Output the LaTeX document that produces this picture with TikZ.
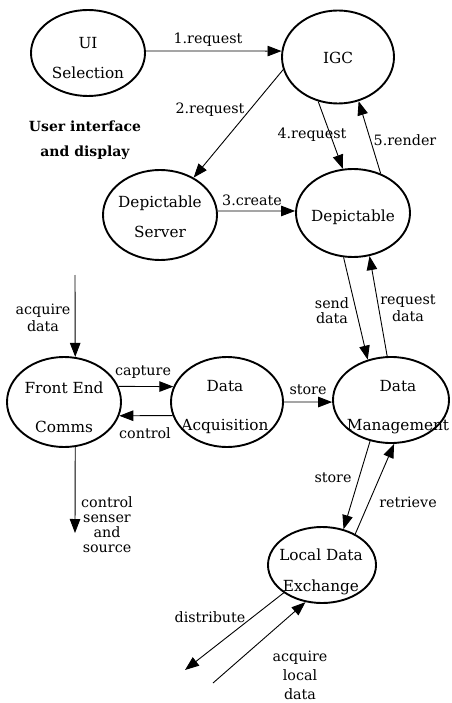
\documentclass[tikz,border=0pt]{standalone}
\usepackage{fontspec}
\setmainfont{DejaVu Serif}
\usetikzlibrary{shapes.geometric,arrows.meta}
\begin{document}
\begin{tikzpicture}[x=1pt,y=-1pt,
  proc/.style={draw,line width=1.9pt,ellipse,inner sep=0pt},
  ntext/.style={inner sep=0pt,align=center,font=\fontsize{15.3}{17}\selectfont},
  lbl/.style={inner sep=0pt,align=center,font=\fontsize{14.3}{15}\selectfont},
  flow/.style={line width=0.9pt,-{Triangle[length=14pt,width=10.5pt]}}]
\useasboundingbox (0,0) rectangle (451,703);
% processes
\node[proc,minimum width=114,minimum height=86] (ui) at (88,53) {};
\node[proc,minimum width=112,minimum height=93] (igc) at (338,57) {};
\node[proc,minimum width=114,minimum height=90] (ds) at (160,215) {};
\node[proc,minimum width=114,minimum height=88] (dep) at (353,213) {};
\node[proc,minimum width=114,minimum height=90] (fec) at (64,402) {};
\node[proc,minimum width=112,minimum height=90] (da) at (227,402) {};
\node[proc,minimum width=116,minimum height=86] (dm) at (391,400) {};
\node[proc,minimum width=108,minimum height=76] (lde) at (322,565) {};
% process texts
\node[ntext] (uit) at (88,58) {UI\\[13pt]Selection};
\node[ntext] (igct) at (338,58) {IGC};
\node[ntext] (dst) at (160,217) {Depictable\\[13pt]Server};
\node[ntext] (dept) at (353,217) {Depictable};
\node[ntext] (fect) at (64,407) {Front End\\[22pt]Comms};
\node[ntext] (dat) at (225,407) {Data\\[22pt]Acquisition};
\node[ntext] (dmt) at (398,407) {Data\\[22pt]Management};
\node[ntext] (ldet) at (321,572) {Local Data\\[14pt]Exchange};
% labels
\node[lbl] (l1) at (208,40) {1.request};
\node[lbl] (l2) at (210,110) {2.request};
\node[lbl,font=\bfseries\fontsize{14}{25}\selectfont] (uid) at (85,140) {User interface\\and display};
\node[lbl] (l4) at (312,135) {4.request};
\node[lbl] (l5) at (405,140) {5.render};
\node[lbl] (l3) at (252,200) {3.create};
\node[lbl,font=\fontsize{14.3}{17}\selectfont] (lacq) at (43,318) {acquire\\data};
\node[lbl] (lsend) at (332,311) {send\\data};
\node[lbl,font=\fontsize{14.3}{17}\selectfont] (lreq) at (408,308) {request\\data};
\node[lbl] (lcap) at (143,372) {capture};
\node[lbl] (lctl) at (145,433) {control};
\node[lbl] (lst1) at (308,390) {store};
\node[lbl] (lcss) at (107,525) {control\\senser\\and\\source};
\node[lbl] (lst2) at (333,478) {store};
\node[lbl] (lret) at (408,502) {retrieve};
\node[lbl] (ldist) at (210,617) {distribute};
\node[lbl,font=\fontsize{14.3}{19}\selectfont] (lacl) at (300,675) {acquire\\local\\data};
% free ends
\coordinate (acqin) at (75,275);
\coordinate (ctlout) at (75,533);
\coordinate (distout) at (185,670);
\coordinate (aclin) at (213,683);
% flows
\draw[flow] (ui.2) -- (igc.174);
\draw[flow] (igc.193) -- (ds.48);
\draw[flow] (ds.4) -- (dep.178);
\draw[flow] (igc.246) -- (dep.103);
\draw[flow] (dep.55) -- (igc.295);
\draw[flow] (acqin) -- (fec.76);
\draw[flow] (dep.258) -- (dm.120);
\draw[flow] (dm.95) -- (dep.291);
\draw[flow] (fec.16) -- (da.164);
\draw[flow] (da.194) -- (fec.346);
\draw[flow] (da.east) -- (dm.182);
\draw[flow] (fec.284) -- (ctlout);
\draw[flow] (dm.243) -- (lde.59);
\draw[flow] (lde.43) -- (dm.274);
\draw[flow] (lde.216) -- (distout);
\draw[flow] (aclin) -- (lde.246);
\end{tikzpicture}
\end{document}
